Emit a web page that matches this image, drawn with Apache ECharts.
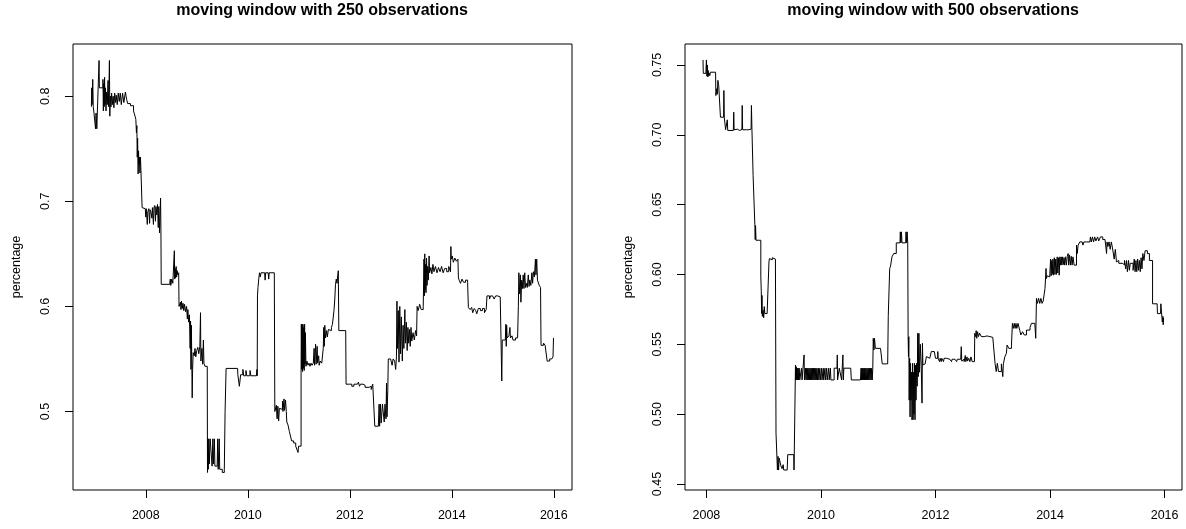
<!DOCTYPE html>
<html>
<head>
<meta charset="utf-8">
<script src="https://cdn.jsdelivr.net/npm/echarts@6/dist/echarts.min.js"></script>
<style>
html, body { margin: 0; padding: 0; background: #fff; }
#chart { width: 1186px; height: 529px; }
</style>
</head>
<body>
<div id="chart"></div>
<script>
// moving window with 250 observations (decimal year, share)
const years250 = [
  2006.933, 2006.940, 2006.947, 2006.960, 2006.970, 2006.985, 2007.015, 2007.025, 2007.040, 2007.050,
  2007.084, 2007.090, 2007.160, 2007.168, 2007.176, 2007.184, 2007.192, 2007.200, 2007.210, 2007.220,
  2007.232, 2007.245, 2007.260, 2007.272, 2007.287, 2007.295, 2007.305, 2007.318, 2007.330, 2007.345,
  2007.360, 2007.375, 2007.390, 2007.405, 2007.420, 2007.440, 2007.460, 2007.480, 2007.500, 2007.520,
  2007.545, 2007.570, 2007.600, 2007.625, 2007.645, 2007.700, 2007.760, 2007.790, 2007.805, 2007.817,
  2007.825, 2007.833, 2007.840, 2007.850, 2007.858, 2007.866, 2007.875, 2007.885, 2007.895, 2007.905,
  2007.928, 2007.935, 2007.990, 2008.000, 2008.010, 2008.030, 2008.040, 2008.060, 2008.075, 2008.085,
  2008.100, 2008.120, 2008.130, 2008.150, 2008.160, 2008.175, 2008.190, 2008.200, 2008.215, 2008.230,
  2008.245, 2008.255, 2008.270, 2008.280, 2008.290, 2008.297, 2008.303, 2008.320, 2008.470, 2008.480,
  2008.490, 2008.510, 2008.530, 2008.560, 2008.567, 2008.575, 2008.585, 2008.595, 2008.605, 2008.615,
  2008.630, 2008.645, 2008.652, 2008.660, 2008.680, 2008.690, 2008.700, 2008.715, 2008.730, 2008.745,
  2008.760, 2008.780, 2008.800, 2008.815, 2008.825, 2008.840, 2008.855, 2008.870, 2008.878, 2008.886,
  2008.894, 2008.902, 2008.910, 2008.918, 2008.930, 2008.950, 2008.965, 2008.980, 2009.000, 2009.020,
  2009.040, 2009.060, 2009.073, 2009.080, 2009.100, 2009.115, 2009.130, 2009.140, 2009.160, 2009.205,
  2009.210, 2009.215, 2009.225, 2009.235, 2009.245, 2009.262, 2009.290, 2009.300, 2009.315, 2009.325,
  2009.345, 2009.355, 2009.400, 2009.410, 2009.420, 2009.440, 2009.450, 2009.500, 2009.540, 2009.555,
  2009.575, 2009.800, 2009.805, 2009.830, 2009.835, 2009.855, 2009.860, 2009.900, 2009.905, 2009.920,
  2009.960, 2009.965, 2009.980, 2010.040, 2010.045, 2010.060, 2010.170, 2010.180, 2010.185, 2010.190,
  2010.200, 2010.215, 2010.230, 2010.245, 2010.260, 2010.330, 2010.340, 2010.350, 2010.400, 2010.410,
  2010.420, 2010.520, 2010.530, 2010.540, 2010.560, 2010.575, 2010.590, 2010.605, 2010.620, 2010.650,
  2010.680, 2010.690, 2010.710, 2010.720, 2010.740, 2010.755, 2010.765, 2010.790, 2010.815, 2010.850,
  2010.860, 2010.900, 2010.940, 2010.975, 2010.985, 2010.995, 2011.030, 2011.045, 2011.050, 2011.058,
  2011.066, 2011.074, 2011.082, 2011.090, 2011.098, 2011.106, 2011.114, 2011.122, 2011.130, 2011.140,
  2011.160, 2011.180, 2011.200, 2011.220, 2011.240, 2011.260, 2011.285, 2011.300, 2011.310, 2011.330,
  2011.340, 2011.360, 2011.370, 2011.390, 2011.400, 2011.420, 2011.450, 2011.480, 2011.490, 2011.500,
  2011.510, 2011.525, 2011.545, 2011.560, 2011.580, 2011.610, 2011.640, 2011.660, 2011.690, 2011.705,
  2011.720, 2011.735, 2011.750, 2011.765, 2011.775, 2011.785, 2011.920, 2011.927, 2012.000, 2012.040,
  2012.080, 2012.150, 2012.170, 2012.190, 2012.210, 2012.260, 2012.300, 2012.380, 2012.420, 2012.450,
  2012.480, 2012.490, 2012.560, 2012.575, 2012.585, 2012.600, 2012.615, 2012.640, 2012.660, 2012.675,
  2012.690, 2012.710, 2012.720, 2012.730, 2012.745, 2012.755, 2012.800, 2012.830, 2012.850, 2012.880,
  2012.900, 2012.915, 2012.925, 2012.935, 2012.950, 2012.965, 2012.980, 2012.995, 2013.010, 2013.030,
  2013.045, 2013.060, 2013.080, 2013.090, 2013.110, 2013.125, 2013.140, 2013.155, 2013.170, 2013.185,
  2013.200, 2013.215, 2013.240, 2013.265, 2013.290, 2013.310, 2013.320, 2013.340, 2013.370, 2013.400,
  2013.440, 2013.455, 2013.462, 2013.470, 2013.478, 2013.486, 2013.494, 2013.505, 2013.515, 2013.525,
  2013.540, 2013.555, 2013.565, 2013.590, 2013.610, 2013.630, 2013.650, 2013.680, 2013.710, 2013.740,
  2013.770, 2013.800, 2013.830, 2013.860, 2013.900, 2013.940, 2013.975, 2013.982, 2013.990, 2014.010,
  2014.030, 2014.060, 2014.090, 2014.120, 2014.130, 2014.145, 2014.170, 2014.200, 2014.230, 2014.270,
  2014.310, 2014.325, 2014.360, 2014.390, 2014.410, 2014.440, 2014.470, 2014.490, 2014.520, 2014.560,
  2014.600, 2014.640, 2014.675, 2014.690, 2014.720, 2014.740, 2014.760, 2014.800, 2014.830, 2014.860,
  2014.900, 2014.950, 2014.975, 2014.980, 2014.990, 2015.050, 2015.060, 2015.068, 2015.076, 2015.085,
  2015.120, 2015.140, 2015.150, 2015.180, 2015.200, 2015.250, 2015.290, 2015.305, 2015.315, 2015.330,
  2015.345, 2015.355, 2015.370, 2015.385, 2015.400, 2015.415, 2015.430, 2015.445, 2015.460, 2015.480,
  2015.500, 2015.515, 2015.530, 2015.550, 2015.570, 2015.585, 2015.600, 2015.620, 2015.640, 2015.650,
  2015.665, 2015.680, 2015.700, 2015.715, 2015.740, 2015.750, 2015.800, 2015.830, 2015.860, 2015.870,
  2015.920, 2015.960, 2015.985, 2015.994
];
const share250 = [
  0.790, 0.808, 0.792, 0.816, 0.790, 0.784, 0.769, 0.784, 0.769, 0.784,
  0.834, 0.808, 0.816, 0.786, 0.812, 0.790, 0.818, 0.792, 0.808, 0.786,
  0.804, 0.792, 0.815, 0.790, 0.834, 0.781, 0.800, 0.790, 0.803, 0.792,
  0.800, 0.789, 0.803, 0.794, 0.801, 0.792, 0.803, 0.795, 0.803, 0.792,
  0.803, 0.794, 0.804, 0.797, 0.793, 0.791, 0.786, 0.781, 0.778, 0.765,
  0.772, 0.742, 0.760, 0.726, 0.748, 0.735, 0.742, 0.727, 0.742, 0.730,
  0.694, 0.693, 0.692, 0.685, 0.693, 0.678, 0.690, 0.693, 0.679, 0.692,
  0.690, 0.684, 0.694, 0.678, 0.694, 0.696, 0.681, 0.695, 0.687, 0.697,
  0.675, 0.695, 0.670, 0.690, 0.703, 0.672, 0.621, 0.621, 0.621, 0.626,
  0.620, 0.626, 0.622, 0.653, 0.626, 0.636, 0.627, 0.638, 0.628, 0.634,
  0.630, 0.632, 0.600, 0.600, 0.604, 0.597, 0.605, 0.598, 0.603, 0.596,
  0.602, 0.595, 0.600, 0.588, 0.597, 0.585, 0.592, 0.560, 0.586, 0.540,
  0.582, 0.548, 0.513, 0.540, 0.556, 0.553, 0.560, 0.552, 0.558, 0.561,
  0.555, 0.562, 0.594, 0.548, 0.560, 0.545, 0.568, 0.546, 0.543, 0.543,
  0.442, 0.474, 0.445, 0.474, 0.450, 0.474, 0.474, 0.448, 0.474, 0.450,
  0.474, 0.448, 0.448, 0.474, 0.445, 0.474, 0.445, 0.442, 0.445, 0.500,
  0.541, 0.541, 0.535, 0.535, 0.524, 0.524, 0.535, 0.535, 0.540, 0.534,
  0.534, 0.539, 0.534, 0.534, 0.539, 0.534, 0.534, 0.540, 0.534, 0.610,
  0.618, 0.626, 0.632, 0.628, 0.632, 0.632, 0.625, 0.632, 0.632, 0.626,
  0.632, 0.632, 0.500, 0.500, 0.506, 0.493, 0.505, 0.491, 0.503, 0.502,
  0.510, 0.500, 0.512, 0.501, 0.511, 0.500, 0.490, 0.487, 0.481, 0.481,
  0.472, 0.470, 0.467, 0.466, 0.461, 0.467, 0.467, 0.540, 0.583, 0.540,
  0.583, 0.538, 0.583, 0.541, 0.580, 0.539, 0.583, 0.545, 0.575, 0.543,
  0.548, 0.544, 0.546, 0.543, 0.546, 0.544, 0.546, 0.560, 0.544, 0.564,
  0.545, 0.562, 0.546, 0.553, 0.544, 0.548, 0.546, 0.560, 0.580, 0.562,
  0.582, 0.570, 0.577, 0.571, 0.578, 0.577, 0.580, 0.583, 0.596, 0.606,
  0.621, 0.626, 0.622, 0.630, 0.634, 0.577, 0.577, 0.526, 0.526, 0.524,
  0.526, 0.525, 0.528, 0.524, 0.526, 0.525, 0.523, 0.524, 0.521, 0.526,
  0.526, 0.486, 0.486, 0.507, 0.486, 0.507, 0.489, 0.507, 0.507, 0.490,
  0.507, 0.493, 0.527, 0.495, 0.520, 0.550, 0.550, 0.544, 0.550, 0.548,
  0.540, 0.552, 0.605, 0.560, 0.596, 0.547, 0.600, 0.555, 0.590, 0.548,
  0.582, 0.560, 0.597, 0.565, 0.585, 0.558, 0.580, 0.565, 0.578, 0.562,
  0.580, 0.567, 0.575, 0.568, 0.577, 0.572, 0.600, 0.596, 0.602, 0.597,
  0.600, 0.645, 0.610, 0.650, 0.616, 0.640, 0.613, 0.646, 0.620, 0.638,
  0.625, 0.648, 0.632, 0.637, 0.631, 0.640, 0.633, 0.638, 0.632, 0.637,
  0.633, 0.638, 0.632, 0.636, 0.633, 0.638, 0.633, 0.657, 0.645, 0.648,
  0.642, 0.646, 0.643, 0.645, 0.627, 0.625, 0.622, 0.626, 0.623, 0.625,
  0.623, 0.599, 0.597, 0.599, 0.594, 0.598, 0.596, 0.593, 0.598, 0.596,
  0.598, 0.594, 0.597, 0.610, 0.610, 0.607, 0.610, 0.610, 0.607, 0.610,
  0.609, 0.609, 0.610, 0.529, 0.568, 0.568, 0.583, 0.562, 0.582, 0.570,
  0.572, 0.580, 0.570, 0.572, 0.568, 0.570, 0.570, 0.600, 0.632, 0.612,
  0.630, 0.604, 0.625, 0.617, 0.630, 0.617, 0.632, 0.618, 0.622, 0.618,
  0.630, 0.619, 0.625, 0.620, 0.632, 0.622, 0.633, 0.628, 0.645, 0.630,
  0.645, 0.625, 0.626, 0.620, 0.618, 0.563, 0.565, 0.563, 0.564, 0.548,
  0.550, 0.550, 0.552, 0.570
];

// moving window with 500 observations (decimal year, share)
const years500 = [
  2007.941, 2007.945, 2007.990, 2008.000, 2008.008, 2008.016, 2008.024, 2008.032, 2008.040, 2008.050,
  2008.060, 2008.069, 2008.160, 2008.165, 2008.180, 2008.190, 2008.200, 2008.215, 2008.240, 2008.245,
  2008.300, 2008.305, 2008.312, 2008.330, 2008.335, 2008.360, 2008.365, 2008.372, 2008.470, 2008.477,
  2008.484, 2008.510, 2008.540, 2008.580, 2008.620, 2008.625, 2008.632, 2008.700, 2008.740, 2008.780,
  2008.786, 2008.795, 2008.815, 2008.840, 2008.845, 2008.852, 2008.858, 2008.866, 2008.910, 2008.950,
  2008.958, 2008.964, 2008.970, 2008.976, 2008.990, 2009.000, 2009.010, 2009.020, 2009.060, 2009.085,
  2009.092, 2009.100, 2009.108, 2009.130, 2009.150, 2009.180, 2009.205, 2009.215, 2009.240, 2009.250,
  2009.260, 2009.270, 2009.290, 2009.300, 2009.320, 2009.340, 2009.350, 2009.410, 2009.420, 2009.525,
  2009.530, 2009.545, 2009.555, 2009.560, 2009.568, 2009.576, 2009.584, 2009.592, 2009.600, 2009.610,
  2009.620, 2009.630, 2009.650, 2009.660, 2009.670, 2009.700, 2009.705, 2009.712, 2009.730, 2009.738,
  2009.750, 2009.758, 2009.770, 2009.778, 2009.790, 2009.798, 2009.810, 2009.818, 2009.830, 2009.838,
  2009.850, 2009.858, 2009.870, 2009.878, 2009.890, 2009.898, 2009.910, 2009.918, 2009.930, 2009.938,
  2009.955, 2009.963, 2009.980, 2009.988, 2010.010, 2010.018, 2010.040, 2010.048, 2010.070, 2010.078,
  2010.100, 2010.108, 2010.135, 2010.143, 2010.165, 2010.173, 2010.200, 2010.230, 2010.280, 2010.285,
  2010.290, 2010.310, 2010.320, 2010.350, 2010.360, 2010.380, 2010.383, 2010.390, 2010.400, 2010.520,
  2010.530, 2010.690, 2010.700, 2010.708, 2010.716, 2010.724, 2010.732, 2010.740, 2010.750, 2010.758,
  2010.766, 2010.775, 2010.785, 2010.795, 2010.805, 2010.815, 2010.825, 2010.835, 2010.845, 2010.855,
  2010.865, 2010.875, 2010.885, 2010.895, 2010.905, 2010.913, 2010.925, 2010.935, 2010.950, 2011.040,
  2011.045, 2011.068, 2011.070, 2011.165, 2011.175, 2011.200, 2011.215, 2011.240, 2011.270, 2011.300,
  2011.315, 2011.380, 2011.385, 2011.395, 2011.405, 2011.415, 2011.430, 2011.480, 2011.485, 2011.495,
  2011.505, 2011.515, 2011.522, 2011.528, 2011.534, 2011.540, 2011.548, 2011.556, 2011.564, 2011.572,
  2011.580, 2011.590, 2011.600, 2011.608, 2011.616, 2011.624, 2011.632, 2011.642, 2011.650, 2011.660,
  2011.670, 2011.680, 2011.690, 2011.700, 2011.710, 2011.720, 2011.735, 2011.750, 2011.765, 2011.772,
  2011.780, 2011.800, 2011.820, 2011.840, 2011.870, 2011.900, 2011.927, 2011.980, 2012.000, 2012.040,
  2012.045, 2012.070, 2012.080, 2012.100, 2012.110, 2012.140, 2012.150, 2012.190, 2012.250, 2012.280,
  2012.290, 2012.340, 2012.370, 2012.380, 2012.440, 2012.450, 2012.458, 2012.480, 2012.500, 2012.520,
  2012.530, 2012.550, 2012.560, 2012.580, 2012.600, 2012.620, 2012.640, 2012.680, 2012.685, 2012.700,
  2012.710, 2012.720, 2012.735, 2012.750, 2012.770, 2012.800, 2012.850, 2012.900, 2012.950, 2013.000,
  2013.030, 2013.040, 2013.060, 2013.080, 2013.100, 2013.130, 2013.150, 2013.175, 2013.185, 2013.210,
  2013.238, 2013.250, 2013.280, 2013.326, 2013.343, 2013.360, 2013.375, 2013.390, 2013.405, 2013.420,
  2013.440, 2013.471, 2013.490, 2013.520, 2013.550, 2013.588, 2013.620, 2013.650, 2013.675, 2013.734,
  2013.750, 2013.763, 2013.780, 2013.800, 2013.820, 2013.840, 2013.860, 2013.880, 2013.905, 2013.912,
  2013.930, 2013.937, 2013.950, 2013.965, 2013.996, 2014.010, 2014.018, 2014.030, 2014.038, 2014.050,
  2014.060, 2014.075, 2014.085, 2014.100, 2014.110, 2014.125, 2014.135, 2014.150, 2014.160, 2014.171,
  2014.180, 2014.195, 2014.205, 2014.220, 2014.230, 2014.245, 2014.255, 2014.270, 2014.285, 2014.300,
  2014.316, 2014.325, 2014.340, 2014.355, 2014.370, 2014.385, 2014.400, 2014.420, 2014.440, 2014.462,
  2014.475, 2014.490, 2014.520, 2014.560, 2014.575, 2014.590, 2014.640, 2014.695, 2014.705, 2014.720,
  2014.740, 2014.760, 2014.780, 2014.800, 2014.830, 2014.850, 2014.880, 2014.920, 2014.960, 2014.987,
  2014.995, 2015.010, 2015.030, 2015.050, 2015.070, 2015.090, 2015.100, 2015.120, 2015.140, 2015.160,
  2015.180, 2015.200, 2015.230, 2015.260, 2015.280, 2015.300, 2015.320, 2015.335, 2015.350, 2015.370,
  2015.385, 2015.400, 2015.430, 2015.450, 2015.470, 2015.485, 2015.500, 2015.515, 2015.530, 2015.545,
  2015.560, 2015.575, 2015.590, 2015.605, 2015.620, 2015.640, 2015.660, 2015.700, 2015.735, 2015.790,
  2015.870, 2015.875, 2015.930, 2015.935, 2015.955, 2015.960, 2015.970, 2015.976, 2015.982
];
const share500 = [
  0.7536, 0.7440, 0.7440, 0.7536, 0.7420, 0.7500, 0.7415, 0.7460, 0.7420, 0.7440,
  0.7425, 0.7448, 0.7448, 0.7281, 0.7330, 0.7290, 0.7390, 0.7352, 0.7352, 0.7126,
  0.7126, 0.7317, 0.7126, 0.7126, 0.7036, 0.7031, 0.7107, 0.7031, 0.7031, 0.7162,
  0.7036, 0.7040, 0.7031, 0.7038, 0.7036, 0.7210, 0.7036, 0.7036, 0.7040, 0.7036,
  0.7210, 0.7036, 0.6710, 0.6710, 0.6360, 0.6250, 0.6350, 0.6245, 0.6245, 0.5983,
  0.5876, 0.5720, 0.5850, 0.5700, 0.5745, 0.5690, 0.5770, 0.5720, 0.5721, 0.5721,
  0.6090, 0.6114, 0.6120, 0.6105, 0.6120, 0.6110, 0.6114, 0.4864, 0.4600, 0.4698,
  0.4600, 0.4686, 0.4650, 0.4630, 0.4610, 0.4638, 0.4600, 0.4614, 0.4710, 0.4710,
  0.4600, 0.4610, 0.5352, 0.5245, 0.5340, 0.5245, 0.5330, 0.5245, 0.5330, 0.5245,
  0.5329, 0.5245, 0.5245, 0.5329, 0.5245, 0.5245, 0.5424, 0.5245, 0.5329, 0.5245,
  0.5329, 0.5245, 0.5329, 0.5245, 0.5329, 0.5245, 0.5329, 0.5245, 0.5329, 0.5245,
  0.5329, 0.5245, 0.5329, 0.5245, 0.5329, 0.5245, 0.5329, 0.5245, 0.5329, 0.5245,
  0.5329, 0.5245, 0.5329, 0.5245, 0.5329, 0.5245, 0.5329, 0.5245, 0.5329, 0.5245,
  0.5329, 0.5245, 0.5329, 0.5245, 0.5329, 0.5245, 0.5245, 0.5329, 0.5329, 0.5424,
  0.5245, 0.5245, 0.5329, 0.5329, 0.5245, 0.5245, 0.5424, 0.5245, 0.5329, 0.5329,
  0.5245, 0.5245, 0.5329, 0.5245, 0.5329, 0.5245, 0.5329, 0.5245, 0.5329, 0.5245,
  0.5329, 0.5245, 0.5329, 0.5245, 0.5329, 0.5245, 0.5329, 0.5245, 0.5329, 0.5245,
  0.5329, 0.5245, 0.5329, 0.5245, 0.5329, 0.5543, 0.5460, 0.5543, 0.5471, 0.5471,
  0.5460, 0.5460, 0.5360, 0.5360, 0.5700, 0.6043, 0.6060, 0.6126, 0.6150, 0.6150,
  0.6226, 0.6226, 0.6305, 0.6226, 0.6305, 0.6226, 0.6226, 0.6226, 0.6305, 0.6226,
  0.6305, 0.6226, 0.5555, 0.5412, 0.5555, 0.5100, 0.5400, 0.4980, 0.5364, 0.5100,
  0.5300, 0.4960, 0.5364, 0.4960, 0.5300, 0.5000, 0.5364, 0.4960, 0.5350, 0.5100,
  0.5364, 0.5200, 0.5579, 0.5269, 0.5579, 0.5300, 0.5500, 0.5350, 0.5079, 0.5507,
  0.5352, 0.5360, 0.5350, 0.5412, 0.5400, 0.5412, 0.5448, 0.5448, 0.5400, 0.5448,
  0.5400, 0.5376, 0.5400, 0.5376, 0.5400, 0.5376, 0.5400, 0.5393, 0.5393, 0.5376,
  0.5393, 0.5393, 0.5376, 0.5393, 0.5393, 0.5483, 0.5380, 0.5393, 0.5376, 0.5420,
  0.5376, 0.5410, 0.5380, 0.5400, 0.5376, 0.5410, 0.5376, 0.5388, 0.5579, 0.5555,
  0.5598, 0.5543, 0.5590, 0.5555, 0.5580, 0.5555, 0.5560, 0.5555, 0.5550, 0.5555,
  0.5555, 0.5364, 0.5305, 0.5364, 0.5305, 0.5305, 0.5360, 0.5269, 0.5360, 0.5410,
  0.5436, 0.5495, 0.5471, 0.5490, 0.5650, 0.5614, 0.5650, 0.5614, 0.5650, 0.5614,
  0.5650, 0.5600, 0.5567, 0.5590, 0.5567, 0.5602, 0.5602, 0.5620, 0.5650, 0.5650,
  0.5543, 0.5829, 0.5793, 0.5829, 0.5793, 0.5829, 0.5793, 0.5810, 0.5800, 0.5900,
  0.6043, 0.5971, 0.5990, 0.5983, 0.6007, 0.6110, 0.5990, 0.6100, 0.6000, 0.6110,
  0.5995, 0.6120, 0.6000, 0.6110, 0.6000, 0.6126, 0.6010, 0.6120, 0.5995, 0.6126,
  0.6067, 0.6126, 0.6067, 0.6126, 0.6070, 0.6120, 0.6067, 0.6126, 0.6067, 0.6130,
  0.6150, 0.6067, 0.6140, 0.6067, 0.6130, 0.6067, 0.6126, 0.6067, 0.6067, 0.6210,
  0.6150, 0.6210, 0.6233, 0.6233, 0.6210, 0.6233, 0.6233, 0.6233, 0.6269, 0.6233,
  0.6269, 0.6233, 0.6269, 0.6240, 0.6269, 0.6240, 0.6269, 0.6250, 0.6260, 0.6150,
  0.6233, 0.6200, 0.6233, 0.6180, 0.6233, 0.6190, 0.6190, 0.6110, 0.6180, 0.6090,
  0.6100, 0.6080, 0.6080, 0.6080, 0.6070, 0.6100, 0.6040, 0.6100, 0.6020, 0.6100,
  0.6030, 0.6080, 0.6080, 0.6030, 0.6110, 0.6020, 0.6100, 0.6020, 0.6110, 0.6030,
  0.6100, 0.6020, 0.6120, 0.6040, 0.6150, 0.6100, 0.6170, 0.6150, 0.6100, 0.5790,
  0.5790, 0.5720, 0.5720, 0.5790, 0.5790, 0.5660, 0.5700, 0.5640, 0.5690
];

const xTicks = [2008, 2010, 2012, 2014, 2016];
const yTicks250 = [0.5, 0.6, 0.7, 0.8];
const yTicks500 = [0.45, 0.50, 0.55, 0.60, 0.65, 0.70, 0.75];

const FONT = '"Liberation Sans", Arial, Helvetica, sans-serif';

function pairs(xs, ys) {
  return xs.map((x, i) => [x, ys[i]]);
}

function makeX(idx, min, max) {
  return {
    type: 'value', gridIndex: idx, min: min, max: max,
    axisLine: { show: false },
    splitLine: { show: false },
    axisTick: { show: true, length: 8, customValues: xTicks, lineStyle: { color: '#000', width: 1 } },
    axisLabel: { customValues: xTicks, margin: 19, color: '#000', fontSize: 12.5, fontFamily: FONT,
      formatter: v => String(Math.round(v)) }
  };
}

function makeY(idx, min, max, ticks, digits) {
  return {
    type: 'value', gridIndex: idx, min: min, max: max,
    name: 'percentage', nameLocation: 'middle', nameRotate: 90, nameGap: 50,
    nameTextStyle: { color: '#000', fontSize: 12.5, fontFamily: FONT },
    axisLine: { show: false },
    splitLine: { show: false },
    axisTick: { show: true, length: 8, customValues: ticks, lineStyle: { color: '#000', width: 1 } },
    axisLabel: { customValues: ticks, rotate: 90, margin: 21, color: '#000', fontSize: 12.5, fontFamily: FONT,
      formatter: v => v.toFixed(digits) }
  };
}

const chart = echarts.init(document.getElementById('chart'));

const option = {
  animation: false,
  backgroundColor: '#fff',
  title: [
    { text: 'moving window with 250 observations', left: 322, top: 3, padding: 0, textAlign: 'center',
      textStyle: { fontSize: 16, fontWeight: 'bold', color: '#000', fontFamily: FONT } },
    { text: 'moving window with 500 observations', left: 933, top: 3, padding: 0, textAlign: 'center',
      textStyle: { fontSize: 16, fontWeight: 'bold', color: '#000', fontFamily: FONT } }
  ],
  grid: [
    { left: 73, top: 44, width: 499, height: 446, show: true, borderColor: '#000', borderWidth: 1 },
    { left: 685, top: 44, width: 497, height: 446, show: true, borderColor: '#000', borderWidth: 1 }
  ],
  xAxis: [
    makeX(0, 2006.573, 2016.357),
    makeX(1, 2007.626, 2016.304)
  ],
  yAxis: [
    makeY(0, 0.4253, 0.8497, yTicks250, 1),
    makeY(1, 0.4457, 0.7650, yTicks500, 2)
  ],
  series: [
    { type: 'line', xAxisIndex: 0, yAxisIndex: 0, step: 'end', showSymbol: false, symbol: 'none', silent: true,
      lineStyle: { color: '#000', width: 1 }, data: pairs(years250, share250) },
    { type: 'line', xAxisIndex: 1, yAxisIndex: 1, step: 'end', showSymbol: false, symbol: 'none', silent: true,
      lineStyle: { color: '#000', width: 1 }, data: pairs(years500, share500) }
  ]
};

chart.setOption(option);
</script>
</body>
</html>
